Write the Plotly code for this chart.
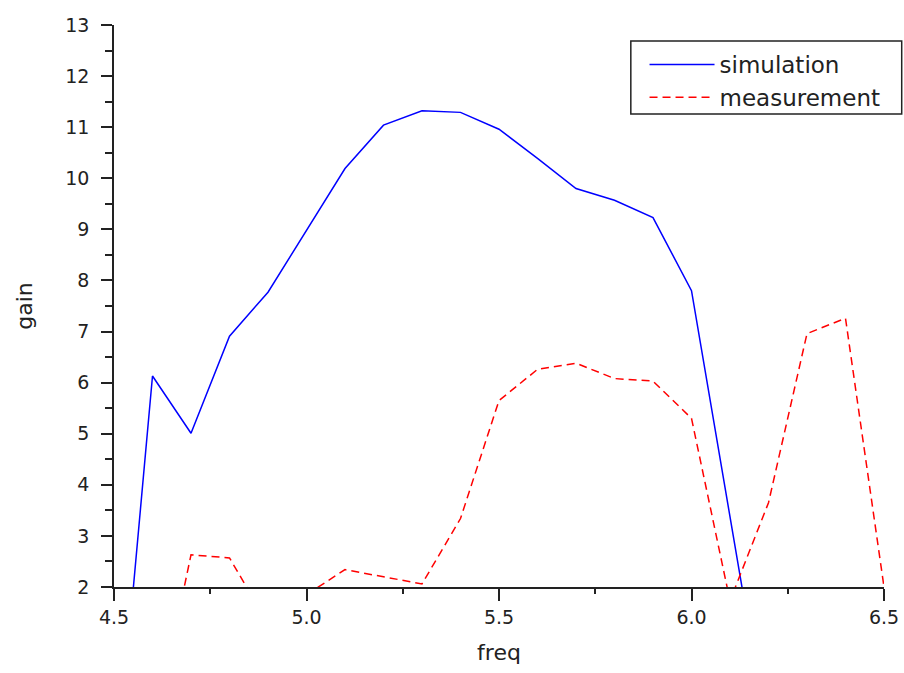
import plotly.graph_objects as go

# simulation (blue)
sim_freq = [4.5, 4.6, 4.7, 4.8, 4.9, 5.0, 5.1, 5.2, 5.3, 5.4, 5.5, 5.6, 5.7, 5.8, 5.9, 6.0, 6.1, 6.2]
sim_gain = [-2.2, 6.13, 5.01, 6.91, 7.77, 8.99, 10.19, 11.04, 11.32, 11.29, 10.96, 10.39, 9.80, 9.57, 9.23, 7.80, 3.38, -1.05]

# measurement (red, dashed)
meas_freq = [4.6, 4.7, 4.8, 4.9, 5.0, 5.1, 5.2, 5.3, 5.4, 5.5, 5.6, 5.7, 5.8, 5.9, 6.0, 6.1, 6.2, 6.3, 6.4, 6.5]
meas_gain = [-0.96, 2.63, 2.57, 1.28, 1.85, 2.34, 2.20, 2.06, 3.34, 5.65, 6.26, 6.38, 6.08, 6.03, 5.30, 1.73, 3.65, 6.96, 7.26, 2.0]

x_ticks = [4.5, 5.0, 5.5, 6.0, 6.5]
x_tick_text = ["4.5", "5.0", "5.5", "6.0", "6.5"]
y_ticks = list(range(2, 14))

FONT = "DejaVu Sans, sans-serif"
AX = "#222222"

fig = go.Figure()
fig.add_trace(go.Scatter(x=sim_freq, y=sim_gain, mode="lines", name="simulation",
                         line=dict(color="#0000ff", width=1.5)))
fig.add_trace(go.Scatter(x=meas_freq, y=meas_gain, mode="lines", name="measurement",
                         line=dict(color="#ff0000", width=1.5, dash="8px,5px")))

# legend frame
fig.add_shape(type="rect", xref="paper", yref="paper",
              x0=0.6712, x1=1.023, y0=0.8416, y1=0.9715,
              line=dict(color="#222222", width=1.5), fillcolor="white", layer="below")

fig.update_layout(
    width=904, height=673,
    margin=dict(l=114, r=20, t=25, b=86),
    paper_bgcolor="white", plot_bgcolor="white",
    font=dict(family=FONT, color="#222222", size=19),
    showlegend=True,
    legend=dict(x=0.689, y=0.968, xanchor="left", yanchor="top",
                bgcolor="rgba(0,0,0,0)", borderwidth=0,
                font=dict(size=23, family=FONT, color="#222222"),
                itemwidth=65, tracegroupgap=0),
    xaxis=dict(range=[4.5, 6.5], tickvals=x_ticks, ticktext=x_tick_text, automargin=False,
               showgrid=False, zeroline=False, showline=True, linecolor=AX, linewidth=1.5,
               ticks="outside", ticklen=12, tickcolor=AX, tickwidth=1.5,
               tickfont=dict(size=19, family=FONT),
               minor=dict(dtick=0.25, tick0=4.5, ticks="outside", ticklen=5, tickcolor=AX, tickwidth=1.5, showgrid=False),
               title=dict(text="freq", font=dict(size=22, family=FONT), standoff=18)),
    yaxis=dict(range=[2, 13], tickvals=y_ticks, automargin=False,
               showgrid=False, zeroline=False, showline=True, linecolor=AX, linewidth=1.5,
               ticks="outside", ticklen=11, tickcolor=AX, tickwidth=1.5,
               tickfont=dict(size=19, family=FONT), ticklabelstandoff=8,
               minor=dict(dtick=0.5, tick0=2, ticks="outside", ticklen=7, tickcolor=AX, tickwidth=1.5, showgrid=False),
               title=dict(text="gain", font=dict(size=22, family=FONT), standoff=27)),
)

fig.write_html("out.html")
